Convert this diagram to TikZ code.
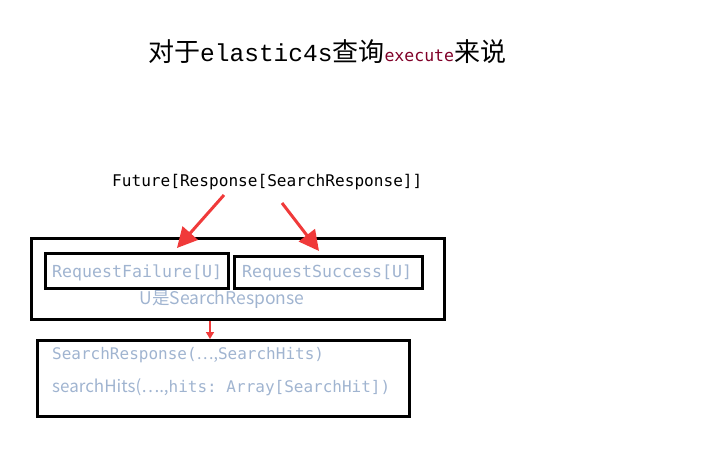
\documentclass[tikz,border=0pt]{standalone}
\usepackage{fontspec}
\setmainfont{Liberation Serif}
\setmonofont{DejaVu Sans Mono}
\newfontfamily\cjk{Noto Sans CJK SC}
\newfontfamily\titlemono{Liberation Mono}
\usetikzlibrary{arrows.meta}
\definecolor{codegray}{RGB}{160,180,208}
\definecolor{arrowred}{RGB}{240,58,58}
\definecolor{execred}{RGB}{128,0,40}
\begin{document}
\begin{tikzpicture}[x=1pt,y=-1pt,
  blackbox/.style={draw=black,line width=3pt},
  codetext/.style={text=codegray,inner sep=0pt,anchor=west},
  redarrow/.style={draw=arrowred,line width=3pt,-{Triangle[length=20pt,width=20pt]}}]
\useasboundingbox (0,0) rectangle (703,466);
% title
\node[anchor=west,inner sep=0pt] (title) at (148,52)
  {\cjk\fontsize{26}{28}\selectfont 对于{\titlemono\fontsize{24.5}{28}\selectfont elastic4s}查询{\ttfamily\fontsize{16.5}{20}\selectfont\color{execred}execute}来说};
% future
\node[anchor=west,inner sep=0pt] (future) at (112,182)
  {\ttfamily\fontsize{16.1}{20}\selectfont Future[Response[SearchResponse]]};
% boxes
\draw[blackbox] (31,238) rectangle (444,319);
\draw[blackbox] (45,253) rectangle (228,288);
\draw[blackbox] (234,256) rectangle (422,288);
\draw[blackbox] (37,340) rectangle (409,416);
\coordinate (outertop1) at (177,248);
\coordinate (outertop2) at (319,251);
\coordinate (outerbot) at (210,321);
\coordinate (bottomtop) at (210,339);
% texts
\node[codetext] (fail) at (52,273) {\ttfamily\fontsize{16.6}{20}\selectfont RequestFailure[U]};
\node[codetext] (succ) at (242,273) {\ttfamily\fontsize{16.6}{20}\selectfont RequestSuccess[U]};
\node[text=codegray,inner sep=0pt] (uis) at (222,300) {\cjk\fontsize{17.5}{20}\selectfont U是SearchResponse};
\node[codetext] (sr) at (52,355) {\ttfamily\fontsize{16}{20}\selectfont SearchResponse({\cjk …,}SearchHits)};
\node[codetext] (sh) at (52,387) {{\cjk\fontsize{17}{20}\selectfont searchHits(….,}\ttfamily\fontsize{16}{20}\selectfont hits: Array[SearchHit])};
% arrows
\coordinate (f1) at (224,195);
\coordinate (f2) at (282,203);
\draw[redarrow] (f1) -- (outertop1);
\draw[redarrow] (f2) -- (outertop2);
\draw[draw=arrowred,line width=1.5pt,-{Triangle[length=7pt,width=8pt]}] (outerbot) -- (bottomtop);
\end{tikzpicture}
\end{document}
